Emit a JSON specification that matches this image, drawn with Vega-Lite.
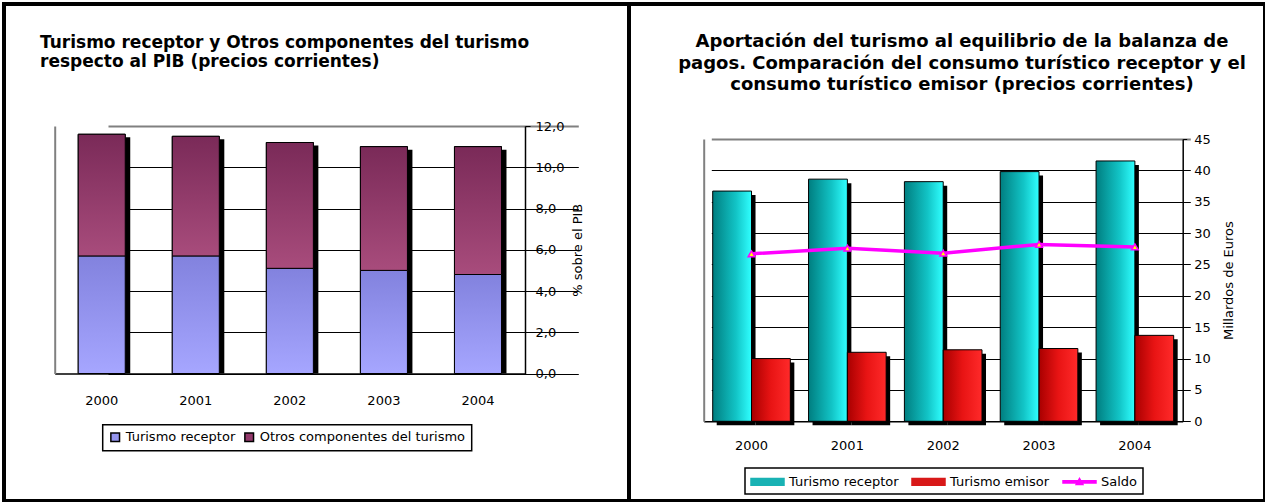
{
  "$schema": "https://vega.github.io/schema/vega-lite/v6.json",
  "padding": {"left": 2, "top": 2, "right": 2, "bottom": 3},
  "background": "white",
  "bounds": "flush",
  "spacing": 0,
  "config": {
    "view": {"stroke": "black", "strokeWidth": 4},
    "font": "DejaVu Sans",
    "axis": {"labelFont": "DejaVu Sans", "labelFontSize": 13, "labelColor": "black", "titleFont": "DejaVu Sans", "titleFontSize": 13, "titleFontWeight": "normal", "titleColor": "black", "domainColor": "black", "tickColor": "black", "gridColor": "black", "gridOpacity": 1},
    "legend": {"labelFont": "DejaVu Sans", "labelFontSize": 13, "labelColor": "black", "labelLimit": 500}
  },
  "resolve": {"scale": {"color": "independent"}, "legend": {"color": "independent"}},
  "hconcat": [
    {
      "width": 625,
      "height": 497,
      "title": {"text": ["Turismo receptor y Otros componentes del turismo", "respecto al PIB (precios corrientes)"], "anchor": "start", "frame": "group", "offset": 0, "baseline": "top", "dx": 36, "dy": 67, "font": "DejaVu Sans", "fontSize": 17, "fontWeight": "bold", "lineHeight": 19, "color": "black"},
      "data": {"values": [
        {"year": "2000", "serie": "Turismo receptor", "value": 5.7},
        {"year": "2000", "serie": "Otros componentes del turismo", "value": 5.9},
        {"year": "2001", "serie": "Turismo receptor", "value": 5.7},
        {"year": "2001", "serie": "Otros componentes del turismo", "value": 5.8},
        {"year": "2002", "serie": "Turismo receptor", "value": 5.1},
        {"year": "2002", "serie": "Otros componentes del turismo", "value": 6.1},
        {"year": "2003", "serie": "Turismo receptor", "value": 5.0},
        {"year": "2003", "serie": "Otros componentes del turismo", "value": 6.0},
        {"year": "2004", "serie": "Turismo receptor", "value": 4.8},
        {"year": "2004", "serie": "Otros componentes del turismo", "value": 6.2}
      ]},
      "encoding": {
        "x": {"field": "year", "type": "nominal", "scale": {"range": [50.7, 521], "paddingInner": 0.5, "paddingOuter": 0.25},
          "axis": {"orient": "bottom", "offset": -127.5, "title": null, "labelAngle": 0, "ticks": false, "tickSize": 0, "labelPadding": 21, "domainColor": "black", "domainWidth": 1.5, "grid": false, "labelBaseline": "top"}}
      },
      "layer": [
        {
          "mark": {"type": "bar", "color": "black", "xOffset": 5, "yOffset": 3},
          "encoding": {
            "y": {"aggregate": "sum", "field": "value", "type": "quantitative", "scale": {"domain": [0, 12], "range": [369.5, 122], "nice": false},
              "axis": {"orient": "left", "offset": -50.7, "labels": false, "ticks": false, "grid": false, "title": null, "domainColor": "#808080", "domainWidth": 2}}
          }
        },
        {
          "mark": {"type": "bar", "stroke": "black", "strokeWidth": 1},
          "encoding": {
            "y": {"field": "value", "type": "quantitative", "stack": "zero",
              "axis": {"orient": "right", "offset": -104, "values": [0, 2, 4, 6, 8, 10, 12], "format": ".1f", "labelExpr": "replace(datum.label, '.', ',')", "grid": true,
                "gridColor": {"condition": {"test": "datum.value === 12", "value": "#808080"}, "value": "black"},
                "gridWidth": {"condition": {"test": "datum.value === 12", "value": 2}, "value": 1},
                "tickSize": 5, "labelPadding": 5, "domainColor": "black", "domainWidth": 1.5, "title": "% sobre el PIB", "titleAngle": 270, "titleBaseline": "top", "titlePadding": 8}},
            "color": {"field": "serie", "type": "nominal",
              "scale": {"domain": ["Turismo receptor", "Otros componentes del turismo"], "range": ["#9494EE", "#93396B"]},
              "legend": {"orient": "none", "legendX": 98.7, "legendY": 420.7, "direction": "horizontal", "columns": 2, "title": null, "strokeColor": "black", "fillColor": "white", "padding": 6, "symbolType": "square", "symbolSize": 75, "symbolStrokeColor": "black", "symbolStrokeWidth": 1.5, "symbolOpacity": 1, "labelOffset": 4, "columnPadding": 6, "labelLimit": 500,
                "encode": {"legend": {"update": {"strokeWidth": {"value": 1.5}}}, "symbols": {"update": {"stroke": {"value": "black"}, "strokeWidth": {"value": 1.5}}}}}},
            "order": {"field": "serie", "sort": "descending"}
          }
        },
        {
          "transform": [{"filter": "datum.serie === 'Turismo receptor'"}],
          "mark": {"type": "bar", "stroke": "black", "strokeWidth": 1,
            "fill": {"gradient": "linear", "x1": 0, "y1": 0, "x2": 0, "y2": 1, "stops": [{"offset": 0, "color": "#8282DE"}, {"offset": 1, "color": "#A6A6FF"}]}},
          "encoding": {"y": {"field": "value", "type": "quantitative", "axis": null}}
        },
        {
          "transform": [
            {"stack": "value", "groupby": ["year"], "sort": [{"field": "serie", "order": "descending"}], "as": ["v0", "v1"]},
            {"filter": "datum.serie === 'Otros componentes del turismo'"}
          ],
          "mark": {"type": "bar", "stroke": "black", "strokeWidth": 1,
            "fill": {"gradient": "linear", "x1": 0, "y1": 0, "x2": 0, "y2": 1, "stops": [{"offset": 0, "color": "#7A2A58"}, {"offset": 1, "color": "#A84C7C"}]}},
          "encoding": {"y": {"field": "v1", "type": "quantitative", "axis": null}, "y2": {"field": "v0"}}
        }
      ],
      "resolve": {"axis": {"y": "independent"}}
    },
    {
      "width": 636,
      "height": 497,
      "title": {"text": ["Aportación del turismo al equilibrio de la balanza de", "pagos. Comparación del consumo turístico receptor y el", "consumo turístico emisor (precios corrientes)"], "anchor": "middle", "frame": "group", "offset": 0, "baseline": "top", "dx": 15, "dy": 90.3, "font": "DejaVu Sans", "fontSize": 18, "fontWeight": "bold", "lineHeight": 21.7, "color": "black"},
      "data": {"values": [
        {"year": "2000", "serie": "Turismo receptor", "value": 36.7},
        {"year": "2001", "serie": "Turismo receptor", "value": 38.6},
        {"year": "2002", "serie": "Turismo receptor", "value": 38.2},
        {"year": "2003", "serie": "Turismo receptor", "value": 39.8},
        {"year": "2004", "serie": "Turismo receptor", "value": 41.5},
        {"year": "2000", "serie": "Turismo emisor", "value": 10.0},
        {"year": "2001", "serie": "Turismo emisor", "value": 11.0},
        {"year": "2002", "serie": "Turismo emisor", "value": 11.4},
        {"year": "2003", "serie": "Turismo emisor", "value": 11.6},
        {"year": "2004", "serie": "Turismo emisor", "value": 13.7},
        {"year": "2000", "serie": "Saldo", "value": 26.7},
        {"year": "2001", "serie": "Saldo", "value": 27.6},
        {"year": "2002", "serie": "Saldo", "value": 26.8},
        {"year": "2003", "serie": "Saldo", "value": 28.2},
        {"year": "2004", "serie": "Saldo", "value": 27.8}
      ]},
      "encoding": {
        "x": {"field": "year", "type": "nominal", "scale": {"range": [74.7, 553.7], "paddingInner": 0.19, "paddingOuter": 0.094},
          "axis": {"orient": "bottom", "offset": -79.7, "title": null, "labelAngle": 0, "ticks": false, "tickSize": 0, "labelPadding": 18, "domainColor": "black", "domainWidth": 1.5, "grid": false, "labelBaseline": "top"}}
      },
      "layer": [
        {
          "transform": [{"filter": "datum.serie === 'Turismo receptor'"}],
          "mark": {"type": "bar", "color": "black", "width": {"band": 0.5}, "xOffset": -15.4, "yOffset": 4},
          "encoding": {
            "y": {"field": "value", "type": "quantitative", "scale": {"domain": [0, 45], "range": [417.3, 135], "nice": false},
              "axis": {"orient": "left", "offset": -74.7, "labels": false, "ticks": false, "grid": false, "title": null, "domainColor": "#808080", "domainWidth": 2}}
          }
        },
        {
          "transform": [{"filter": "datum.serie === 'Turismo emisor'"}],
          "mark": {"type": "bar", "color": "black", "width": {"band": 0.5}, "xOffset": 23.4, "yOffset": 4},
          "encoding": {"y": {"field": "value", "type": "quantitative", "axis": null}}
        },
        {
          "transform": [{"filter": "datum.serie === 'Turismo receptor'"}],
          "mark": {"type": "bar", "width": {"band": 0.5}, "xOffset": -19.4, "stroke": "black", "strokeWidth": 1,
            "fill": {"gradient": "linear", "x1": 0, "y1": 0, "x2": 1, "y2": 0, "stops": [{"offset": 0, "color": "#007E80"}, {"offset": 0.6, "color": "#12C4C6"}, {"offset": 1, "color": "#30FFFF"}]}},
          "encoding": {"y": {"field": "value", "type": "quantitative", "axis": null}}
        },
        {
          "transform": [{"filter": "datum.serie === 'Turismo emisor'"}],
          "mark": {"type": "bar", "width": {"band": 0.5}, "xOffset": 19.4, "stroke": "black", "strokeWidth": 1,
            "fill": {"gradient": "linear", "x1": 0, "y1": 0, "x2": 1, "y2": 0, "stops": [{"offset": 0, "color": "#A80000"}, {"offset": 0.5, "color": "#E81414"}, {"offset": 1, "color": "#FF2A2A"}]}},
          "encoding": {"y": {"field": "value", "type": "quantitative", "axis": null}}
        },
        {
          "transform": [{"filter": "datum.serie === 'Saldo'"}],
          "mark": {"type": "line", "strokeWidth": 3.5},
          "encoding": {
            "y": {"field": "value", "type": "quantitative",
              "axis": {"orient": "right", "offset": -82.3, "values": [0, 5, 10, 15, 20, 25, 30, 35, 40, 45], "grid": true,
                "gridColor": {"condition": {"test": "datum.value === 45", "value": "#808080"}, "value": "black"},
                "gridWidth": {"condition": {"test": "datum.value === 45", "value": 2}, "value": 1},
                "tickSize": 4, "labelPadding": 7, "domainColor": "black", "domainWidth": 1.5, "title": "Millardos de Euros", "titleAngle": 270, "titleBaseline": "top", "titlePadding": 12}},
            "color": {"field": "serie", "type": "nominal",
              "scale": {"domain": ["Turismo receptor", "Turismo emisor", "Saldo"], "range": ["#19B2B4", "#D81818", "#FF00FF"]},
              "legend": {"orient": "none", "legendX": 116, "legendY": 464, "direction": "horizontal", "columns": 3, "title": null, "strokeColor": "black", "fillColor": "white", "padding": 5, "symbolType": "M-1,-0.45H3.4V0.45H-1Z", "symbolSize": 225, "symbolOpacity": 1, "labelOffset": 22, "columnPadding": 10, "labelLimit": 500,
                "encode": {"legend": {"update": {"strokeWidth": {"value": 1.5}}}, "symbols": {"update": {
                  "shape": {"signal": "datum.value === 'Saldo' ? 'M-1,-0.15H3.4V0.15H-1Z M0.75,0.38L1.2,-0.42L1.65,0.38Z' : 'M-1,-0.45H3.4V0.45H-1Z'"},
                  "fill": {"signal": "datum.value === 'Saldo' ? '#FF00FF' : datum.value === 'Turismo emisor' ? '#D81818' : '#19B2B4'"},
                  "stroke": {"signal": "datum.value === 'Saldo' ? '#FF00FF' : 'black'"},
                  "strokeWidth": {"value": 1.5},
                  "opacity": {"value": 1}
                }}}}}
          }
        },
        {
          "transform": [{"filter": "datum.serie === 'Saldo'"}],
          "mark": {"type": "point", "shape": "triangle-up", "filled": true, "fill": "#FFFF00", "stroke": "#FF00FF", "strokeWidth": 1.5, "size": 45, "opacity": 1},
          "encoding": {"y": {"field": "value", "type": "quantitative", "axis": null}}
        }
      ],
      "resolve": {"axis": {"y": "independent"}}
    }
  ]
}
